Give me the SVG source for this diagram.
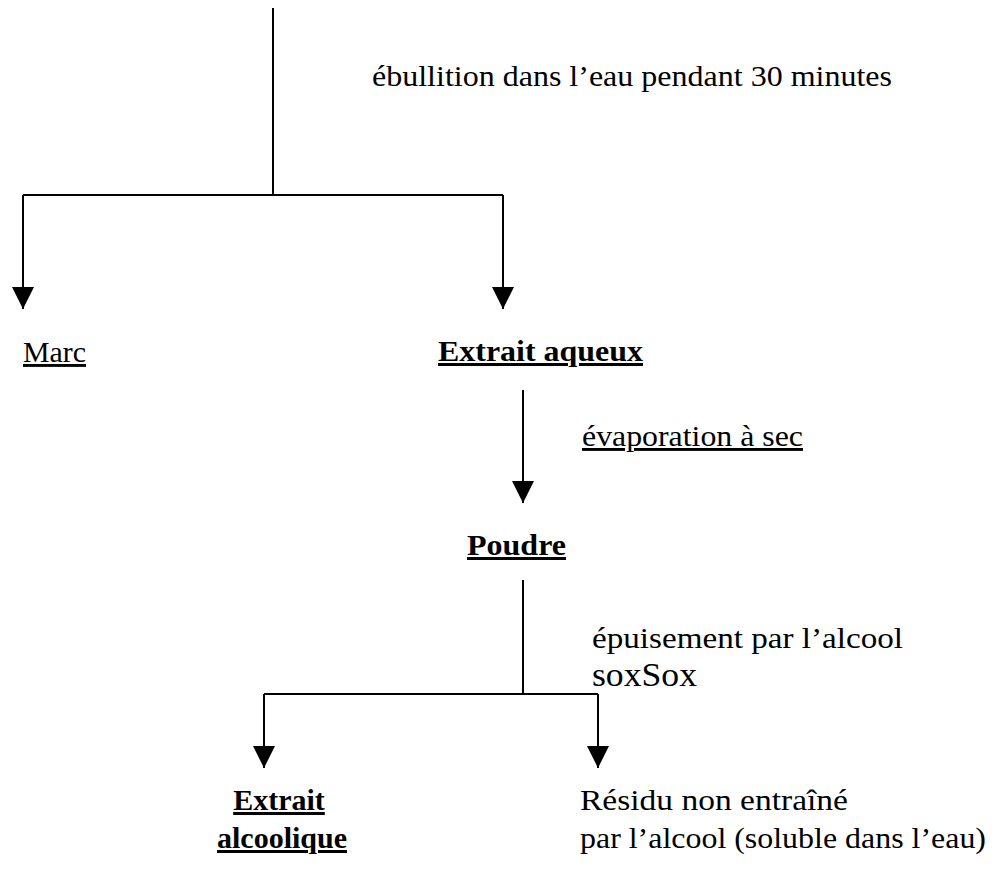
<svg xmlns="http://www.w3.org/2000/svg" width="995" height="869" viewBox="0 0 995 869">
<style>
.t{font-family:"Liberation Serif","DejaVu Serif",serif;font-size:29px;fill:#000}
.b{font-weight:bold;font-size:30px}
.u{text-decoration:underline}
.c{stroke:#000;stroke-width:2;fill:none}
</style>
<defs>
<marker id="ah" markerUnits="userSpaceOnUse" markerWidth="22" markerHeight="22" viewBox="0 0 20 20" refX="20" refY="10" orient="auto">
<path d="M0,0 L20,10 L0,20 Z" fill="#000"/>
</marker>
</defs>
<rect width="995" height="869" fill="#fff"/>
<g id="connectors">
<path class="c" d="M273,8 V195"/>
<path class="c" d="M23,195 H503"/>
<path class="c" d="M23,195 V309" marker-end="url(#ah)"/>
<path class="c" d="M503,195 V309" marker-end="url(#ah)"/>
<path class="c" d="M523,390 V503" marker-end="url(#ah)"/>
<path class="c" d="M523,580 V694"/>
<path class="c" d="M264,694 H598"/>
<path class="c" d="M264,694 V768" marker-end="url(#ah)"/>
<path class="c" d="M598,694 V768" marker-end="url(#ah)"/>
</g>
<g id="label-ebullition"><text class="t" x="372" y="86" textLength="520" lengthAdjust="spacingAndGlyphs">ébullition dans l’eau pendant 30 minutes</text></g>
<g id="node-marc"><text class="t u" x="23" y="362" textLength="63" lengthAdjust="spacingAndGlyphs">Marc</text></g>
<g id="node-extrait-aqueux"><text class="t b u" x="438" y="361" textLength="205" lengthAdjust="spacingAndGlyphs">Extrait aqueux</text></g>
<g id="label-evaporation"><text class="t u" x="582" y="446" textLength="221" lengthAdjust="spacingAndGlyphs">évaporation à sec</text></g>
<g id="node-poudre"><text class="t b u" x="467" y="555" textLength="99" lengthAdjust="spacingAndGlyphs">Poudre</text></g>
<g id="label-epuisement">
<text class="t" x="592" y="648" textLength="311" lengthAdjust="spacingAndGlyphs">épuisement par l’alcool</text>
<text class="t" x="592" y="686" style="font-size:33px" textLength="105" lengthAdjust="spacingAndGlyphs">soxSox</text>
</g>
<g id="node-extrait-alcoolique">
<text class="t b u" x="279" y="810" text-anchor="middle">Extrait</text>
<text class="t b u" x="282" y="848" text-anchor="middle">alcoolique</text>
</g>
<g id="node-residu">
<text class="t" x="580" y="810" textLength="268" lengthAdjust="spacingAndGlyphs">Résidu non entraîné</text>
<text class="t" x="580" y="848" textLength="406" lengthAdjust="spacingAndGlyphs">par l’alcool (soluble dans l’eau)</text>
</g>
</svg>
